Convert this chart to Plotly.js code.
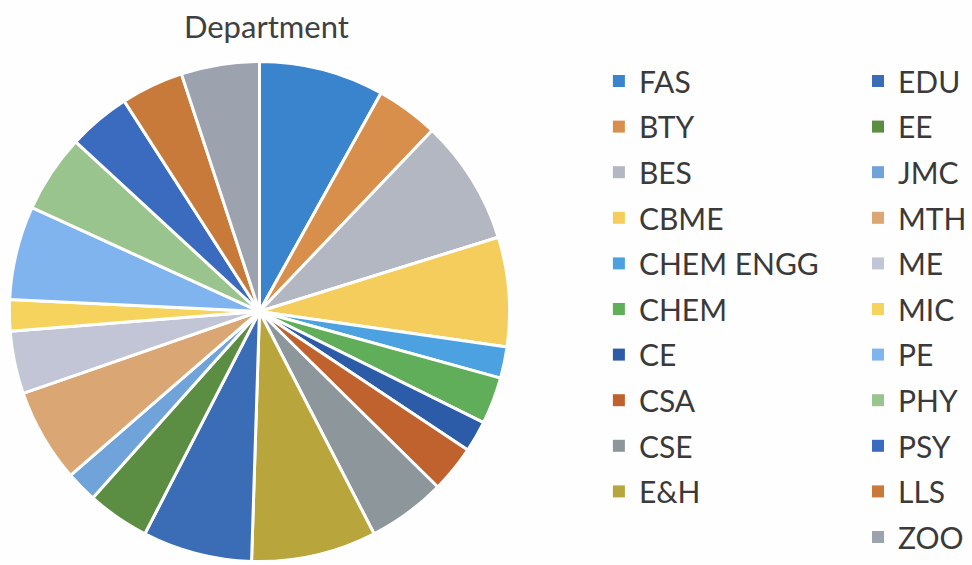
<!DOCTYPE html>
<html>
<head>
<meta charset="utf-8">
<script src="https://cdn.plot.ly/plotly-3.0.1.min.js"></script>
<style>html,body{margin:0;padding:0;background:#fefefe;}#chart{width:972px;height:565px;}</style>
</head>
<body>
<div id="chart"></div>
<script>
// Data (counts)
var departments = ["FAS","BTY","BES","CBME","CHEM ENGG","CHEM","CE","CSA","CSE","E&H",
                   "EDU","EE","JMC","MTH","ME","MIC","PE","PHY","PSY","LLS","ZOO"];
var counts      = [8,4,8,7,2,3,2,3,5,8,
                   7,4,2,6,4,2,6,5,4,4,5];
var sliceColors = ["#3a83cd","#d98f4c","#b3b7c2","#f4cd5c","#4ca2e0","#60ad5a","#2c5ba8","#c0622e","#8c969b","#b8a63c",
                   "#3a6db6","#5b8d42","#70a3da","#daa774","#c2c5d5","#f5d35c","#80b4ee","#9ac48e","#3b6bbe","#c77a3a","#9da3ae"];
var firstColumnCount = 10;

var traces = [];
traces.push({
  type: "pie",
  labels: departments,
  values: counts,
  sort: false,
  direction: "clockwise",
  rotation: 0,
  textinfo: "none",
  hoverinfo: "label+value",
  showlegend: false,
  marker: {colors: sliceColors, line: {color: "#ffffff", width: 3}},
  domain: {x: [9.5/972, 516.5/972], y: [0, 1 - 58/565]}
});

// legend-only entries (tiny pies), split into two columns
departments.forEach(function(d, i){
  traces.push({
    type: "pie",
    labels: [d],
    values: [counts[i]],
    sort: false,
    textinfo: "none",
    hoverinfo: "skip",
    showlegend: true,
    legendgroup: "g" + i,
    legend: i < firstColumnCount ? "legend" : "legend2",
    marker: {colors: [sliceColors[i]], line: {width: 0}},
    domain: {x: [0, 0.0001], y: [0, 0.0001]}
  });
});

var legendFont = {family: "Lato, 'Open Sans', sans-serif", size: 30, color: "#3a3a3a"};
var layout = {
  width: 972, height: 565,
  margin: {l: 0, r: 0, t: 0, b: 0},
  paper_bgcolor: "#fefefe",
  plot_bgcolor: "#fefefe",
  title: {
    text: "Department",
    font: {family: "Lato, 'Open Sans', sans-serif", size: 31, color: "#404040"},
    x: 270/972, xanchor: "center", xref: "paper",
    y: 1 - 27/565, yanchor: "middle", yref: "paper"
  },
  legend: {
    x: 607/972, xanchor: "left", y: 1 - 55/565, yanchor: "top",
    font: legendFont, traceorder: "grouped", tracegroupgap: 3.6,
    bgcolor: "rgba(0,0,0,0)", itemclick: false
  },
  legend2: {
    x: 870/972, xanchor: "left", y: 1 - 55/565, yanchor: "top",
    font: legendFont, traceorder: "grouped", tracegroupgap: 3.6,
    bgcolor: "rgba(0,0,0,0)", itemclick: false
  },
  showlegend: true
};

Plotly.newPlot("chart", traces, layout, {displayModeBar: false, staticPlot: true});
</script>
</body>
</html>
